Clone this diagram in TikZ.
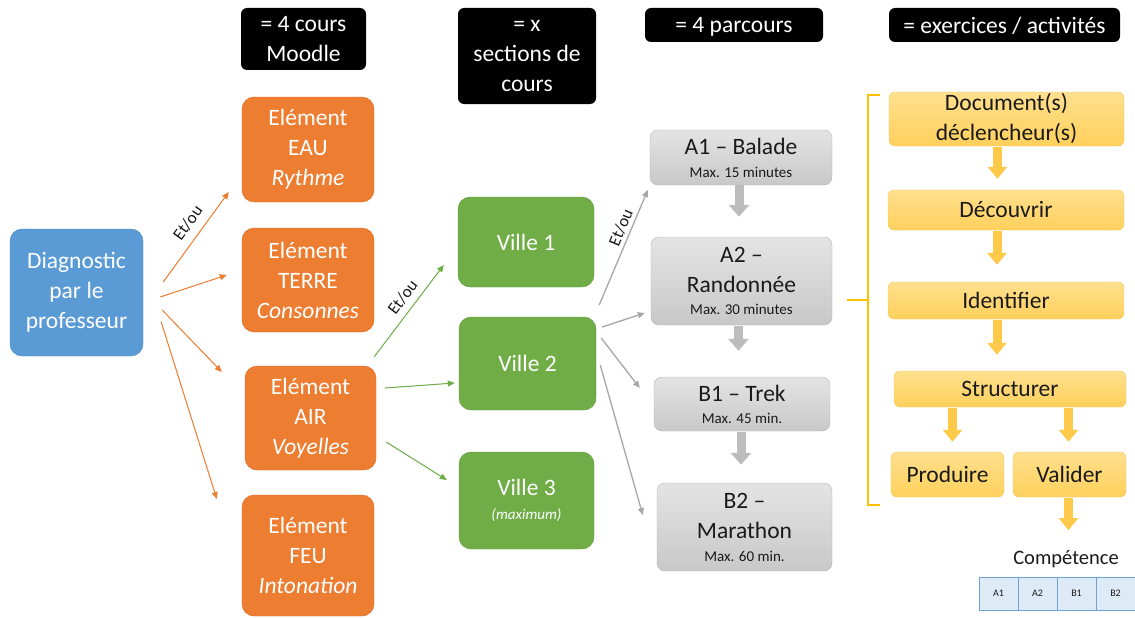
\documentclass[tikz,border=0pt]{standalone}
\usepackage{fontspec}
\setmainfont{Carlito}
\usetikzlibrary{arrows.meta,calc}
\definecolor{cblue}{HTML}{5B9BD5}
\definecolor{cblueD}{HTML}{4A86BF}
\definecolor{corange}{HTML}{ED7D31}
\definecolor{corangeD}{HTML}{D86A22}
\definecolor{cgreen}{HTML}{70AD47}
\definecolor{cgreenD}{HTML}{5F9A3A}
\definecolor{cgrayT}{HTML}{E4E4E4}
\definecolor{cgrayB}{HTML}{C8C8C8}
\definecolor{cgrayD}{HTML}{B4B4B4}
\definecolor{cgrayA}{HTML}{BDBDBD}
\definecolor{cgrayL}{HTML}{A6A6A6}
\definecolor{cyelT}{HTML}{FFE08E}
\definecolor{cyelB}{HTML}{FFD05C}
\definecolor{cyelD}{HTML}{F6C45A}
\definecolor{cyelA}{HTML}{FFC94A}
\definecolor{cgold}{HTML}{FFC000}
\definecolor{ctabF}{HTML}{DEEAF6}
\definecolor{ctabD}{HTML}{6FA3D8}
\definecolor{ctxt}{HTML}{1A1A1A}
\begin{document}
\begin{tikzpicture}[x=1pt,y=-1pt,
  sz/.style 2 args={minimum width=#1pt,minimum height=#2pt},
  big/.style={font=\fontsize{23.5}{30}\selectfont},
  hdr/.style={big,fill=black,rounded corners=6pt,text=white,align=center,inner sep=0pt},
  rbox/.style={big,rounded corners=12pt,align=center,inner sep=0pt},
  diagbox/.style={rbox,fill=cblue,draw=cblueD,text=white},
  obox/.style={rbox,fill=corange,draw=corangeD,text=white},
  vbox/.style={rbox,fill=cgreen,draw=cgreenD,text=white},
  gbox/.style={rbox,rounded corners=8pt,top color=cgrayT,bottom color=cgrayB,draw=cgrayD,text=ctxt},
  ybox/.style={rbox,rounded corners=6pt,top color=cyelT,bottom color=cyelB,draw=cyelD,text=ctxt},
  cell/.style={draw=ctabD,fill=ctabF,minimum width=39pt,minimum height=33pt,inner sep=0pt,font=\fontsize{10}{10}\selectfont,text=ctxt},
  thin/.style={line width=1pt,-{Triangle[length=7pt,width=6pt]}},
  oarr/.style={thin,draw=corange,fill=corange},
  varr/.style={thin,draw=cgreen,fill=cgreen},
  garr/.style={thin,line width=1.3pt,draw=cgrayL,fill=cgrayL},
  etou/.style={font=\fontsize{17}{17}\selectfont,text=ctxt,sloped,above=#1},
  etou/.default=4pt,
  gblock/.style={draw=cgrayA,line width=9pt,-{Triangle[length=12pt,width=20pt]}},
  yblock/.style={draw=cyelA,line width=9pt,-{Triangle[length=12pt,width=19pt]}}
]
\newcommand\smalltxt{\fontsize{15}{16}\selectfont}
\useasboundingbox (0,0) rectangle (1135,618);

% headers
\node[hdr,sz={125}{62}] (h1) at (303.5,39) {= 4 cours\\Moodle};
\node[hdr,sz={138}{96}] (h2) at (527,56) {= x\\sections de\\cours};
\node[hdr,sz={178}{34},text depth=0pt] (h3) at (734,25) {= 4 parcours};
\node[hdr,sz={231}{34},text depth=0pt] (h4) at (1004.5,25) {= exercices / activités};

% diagnostic
\node[diagbox,sz={133}{127}] (diag) at (76.5,292.5) {Diagnostic\\par le\\professeur};

% elements
\node[obox,sz={132}{105}] (eau) at (308,149.5) {Elément\\EAU\\\textit{Rythme}};
\node[obox,sz={132}{104}] (terre) at (308,280) {Elément\\TERRE\\\textit{Consonnes}};
\node[obox,sz={131}{104}] (air) at (310.5,418) {Elément\\AIR\\\textit{Voyelles}};
\node[obox,sz={132}{121}] (feu) at (308,555.5) {Elément\\FEU\\\textit{Intonation}};

% villes
\node[vbox,sz={136}{90}] (v1) at (526,242) {Ville 1};
\node[vbox,sz={137}{93}] (v2) at (527.5,363.5) {Ville 2};
\node[vbox,sz={135}{97}] (v3) at (526.5,500.5) {Ville 3\\[-6pt]{\smalltxt\itshape (maximum)}};

% parcours
\node[gbox,sz={182}{55}] (a1) at (741,157.5) {A1 – Balade\\[-7pt]{\smalltxt Max. 15 minutes}};
\node[gbox,sz={181}{88}] (a2) at (741.5,281) {A2 –\\Randonnée\\[-8pt]{\smalltxt Max. 30 minutes}};
\node[gbox,sz={176}{54}] (b1) at (742,404) {B1 – Trek\\[-8pt]{\smalltxt Max. 45 min.}};
\node[gbox,sz={175}{88}] (b2) at (744.5,527) {B2 –\\Marathon\\[-7pt]{\smalltxt Max. 60 min.}};

% activites
\node[ybox,sz={235}{54}] (doc) at (1006.5,119) {Document(s)\\déclencheur(s)};
\node[ybox,sz={236}{40}] (dec) at (1006,210) {Découvrir};
\node[ybox,sz={236}{37}] (ide) at (1006,300.5) {Identifier};
\node[ybox,sz={232}{36}] (str) at (1010,389) {Structurer};
\node[ybox,sz={113}{45}] (pro) at (947.5,474.5) {Produire};
\node[ybox,sz={113}{45}] (val) at (1069.5,474.5) {Valider};
\node[font=\fontsize{20.5}{21}\selectfont,text=ctxt,inner sep=0pt] (comp) at (1066,559) {Compétence};
\node[cell] (c1) at (998.5,593.5) {A1};
\node[cell] (c2) at (1037.5,593.5) {A2};
\node[cell] (c3) at (1076.5,593.5) {B1};
\node[cell] (c4) at (1115.5,593.5) {B2};

% diag -> elements
\draw[oarr] ($(diag.east)+(20,-10.5)$) -- ($(eau.west)+(-13,42.5)$) node[etou=5pt,pos=0.56] {Et/ou};
\draw[oarr] ($(diag.east)+(17,4.5)$) -- ($(terre.west)+(-15,-5)$);
\draw[oarr] ($(diag.east)+(19,17.5)$) -- ($(air.west)+(-23,-46)$);
\draw[oarr] ($(diag.east)+(18,29.5)$) -- ($(feu.west)+(-25,-56.5)$);

% air -> villes
\draw[varr] ($(air.north east)+(-2,-9)$) -- ($(v1.west)+(-14,23)$) node[etou=3pt,pos=0.56] {Et/ou};
\draw[varr] ($(air.east)+(9,-30)$) -- ($(v2.west)+(-4,19.5)$);
\draw[varr] ($(air.east)+(10,24)$) -- ($(v3.west)+(-12,-20.5)$);

% ville 2 -> parcours
\draw[garr] ($(v2.east)+(3,-58.5)$) -- ($(a1.west)+(-2,32.5)$) node[etou=0pt,pos=0.64] {Et/ou};
\draw[garr] ($(v2.east)+(6,-36.5)$) -- ($(a2.west)+(-6,32)$);
\draw[garr] ($(v2.east)+(5,-25.5)$) -- ($(b1.west)+(-14,-16)$);
\draw[garr] ($(v2.east)+(4,1.5)$) -- ($(b2.west)+(-14,-12)$);

% gray block arrows
\draw[gblock,shorten >=20pt] ([xshift=-2pt]a1.south) -- ([xshift=-2pt]a1.south |- a2.north);
\draw[gblock,shorten >=26pt,shorten <=1pt] ([xshift=-3pt]a2.south) -- ([xshift=-3pt]a2.south |- b1.north);
\draw[gblock,shorten >=18pt,shorten <=1pt] ([xshift=-1pt]b1.south) -- ([xshift=-1pt]b1.south |- b2.north);

% yellow block arrows
\draw[yblock,shorten >=11pt,shorten <=1pt] ([xshift=-9pt]doc.south) -- ([xshift=-9pt]doc.south |- dec.north);
\draw[yblock,shorten >=17pt,shorten <=1pt] ([xshift=-9pt]dec.south) -- ([xshift=-9pt]dec.south |- ide.north);
\draw[yblock,shorten >=16pt,shorten <=1pt] ([xshift=-9pt]ide.south) -- ([xshift=-9pt]ide.south |- str.north);
\draw[yblock,shorten >=10pt,shorten <=1pt] ([xshift=5pt]pro.north |- str.south) -- ([xshift=5pt]pro.north);
\draw[yblock,shorten >=10pt,shorten <=1pt] ([xshift=-1pt]val.north |- str.south) -- ([xshift=-1pt]val.north);
\draw[yblock,shorten >=20pt,shorten <=1pt] ([xshift=-1pt]val.south) -- ([xshift=-1pt]val.south |- comp.north);

% brace
\draw[cgold,line width=2pt] (880,95) -- (868,95) -- (868,505) -- (880,505);
\draw[cgold,line width=2pt] (868,300) -- (847,300);
\end{tikzpicture}
\end{document}
